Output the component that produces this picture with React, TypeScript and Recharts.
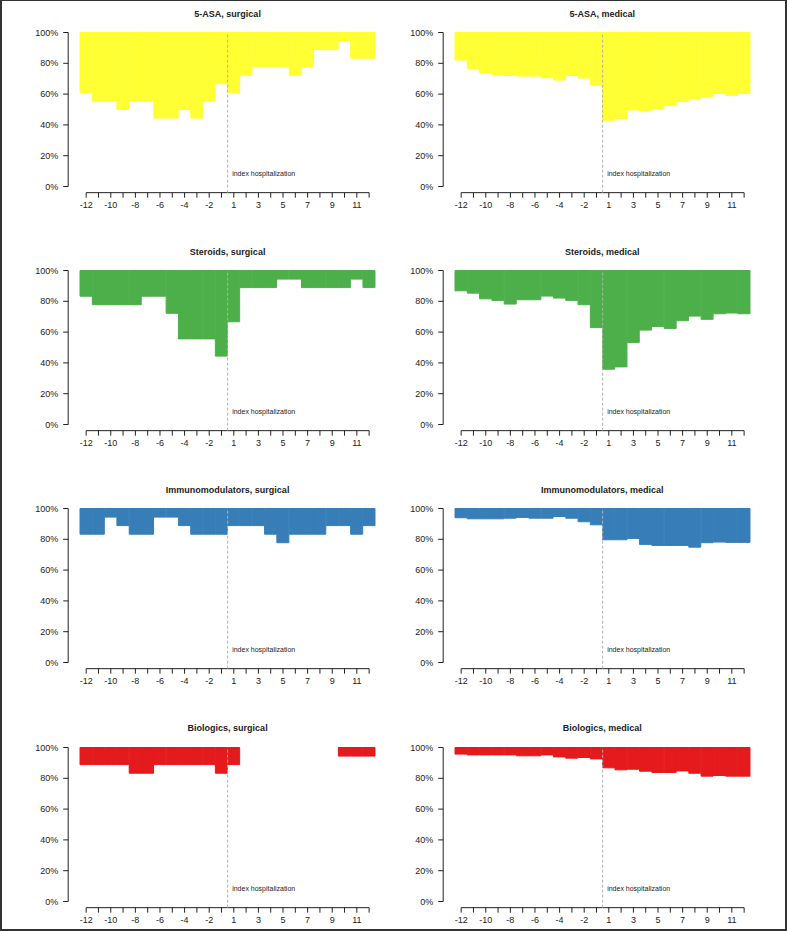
import React from 'react';
import { BarChart, Bar, XAxis, YAxis, ReferenceLine, ReferenceDot } from 'recharts';

// months relative to the index hospitalization (no month 0)
const MONTHS = [-12, -11, -10, -9, -8, -7, -6, -5, -4, -3, -2, -1, 1, 2, 3, 4, 5, 6, 7, 8, 9, 10, 11, 12];
const X_LABELS = ['-12', '', '-10', '', '-8', '', '-6', '', '-4', '', '-2', '', '1', '', '3', '', '5', '', '7', '', '9', '', '11', ''];
const Y_TICKS = [0, 20, 40, 60, 80, 100];

// share of patients (%) not on the drug, bars hang from 100% down to this value
const ASA_SURGICAL = [61.1, 55.6, 55.6, 50, 55.6, 55.6, 44.4, 44.4, 50, 44.4, 55.6, 66.7, 61.1, 72.2, 77.8, 77.8, 77.8, 72.2, 77.8, 88.9, 88.9, 94.4, 83.3, 83.3];
const ASA_MEDICAL = [82.1, 76.5, 73.7, 72.4, 72.1, 71.7, 71.7, 70.6, 69.1, 72.1, 70.4, 65.9, 43.0, 44.1, 49.7, 49.0, 50.5, 52.5, 55.3, 57.0, 58.5, 60.5, 59.2, 60.5];
const STEROIDS_SURGICAL = [83.3, 77.8, 77.8, 77.8, 77.8, 83.3, 83.3, 72.2, 55.6, 55.6, 55.6, 44.4, 66.7, 88.9, 88.9, 88.9, 94.4, 94.4, 88.9, 88.9, 88.9, 88.9, 94.4, 88.9];
const STEROIDS_MEDICAL = [86.8, 85.3, 81.6, 80.6, 78.2, 81.0, 81.0, 83.4, 82.1, 80.6, 77.8, 62.9, 35.9, 37.4, 53.3, 61.3, 63.7, 62.4, 67.4, 70.4, 68.3, 71.9, 72.4, 71.9];
const IMMUNO_SURGICAL = [83.3, 83.3, 94.4, 88.9, 83.3, 83.3, 94.4, 94.4, 88.9, 83.3, 83.3, 83.3, 88.9, 88.9, 88.9, 83.3, 77.8, 83.3, 83.3, 83.3, 88.9, 88.9, 83.3, 88.9];
const IMMUNO_MEDICAL = [94.0, 93.3, 93.3, 93.3, 93.7, 94.2, 93.7, 93.7, 94.8, 93.7, 91.4, 89.4, 79.7, 79.7, 80.6, 76.7, 76.0, 76.0, 76.0, 74.9, 77.8, 78.2, 78.0, 78.0];
const BIOLOGICS_SURGICAL = [88.9, 88.9, 88.9, 88.9, 83.3, 83.3, 88.9, 88.9, 88.9, 88.9, 88.9, 83.3, 88.9, 100, 100, 100, 100, 100, 100, 100, 100, 94.4, 94.4, 94.4];
const BIOLOGICS_MEDICAL = [95.7, 95.2, 95.2, 95.2, 95.2, 94.6, 94.6, 95.2, 93.9, 93.1, 93.5, 92.6, 86.8, 85.5, 85.9, 84.6, 83.8, 83.8, 84.8, 83.3, 81.4, 81.8, 81.4, 81.4];

const INDEX_X = 12.5; // between month -1 and month 1
const NOTE_Y = 8.7;

const PANELS = [
  { title: '5-ASA, surgical', values: ASA_SURGICAL, color: '#FFFF33' },
  { title: '5-ASA, medical', values: ASA_MEDICAL, color: '#FFFF33' },
  { title: 'Steroids, surgical', values: STEROIDS_SURGICAL, color: '#4DAF4A' },
  { title: 'Steroids, medical', values: STEROIDS_MEDICAL, color: '#4DAF4A' },
  { title: 'Immunomodulators, surgical', values: IMMUNO_SURGICAL, color: '#377EB8' },
  { title: 'Immunomodulators, medical', values: IMMUNO_MEDICAL, color: '#377EB8' },
  { title: 'Biologics, surgical', values: BIOLOGICS_SURGICAL, color: '#E41A1C' },
  { title: 'Biologics, medical', values: BIOLOGICS_MEDICAL, color: '#E41A1C' },
];

const FONT = '"Liberation Sans", Arial, Helvetica, sans-serif';
const INK = '#222';
const PX = 1.54; // px per percentage point
const W = 400;
const H = 238;
const M_LEFT = 28.2;
const Y_W = 40;
const PLOT_W = 318.9;
const M_TOP = 32.5 - 4 * PX;
const X_H = 30;
const COL_X = [0, 374.7];
const ROW_Y = [0, 238, 476.2, 714.5];

const Panel = ({ title, values, color }: { title: string; values: number[]; color: string }) => {
  const data = MONTHS.map((m, k) => ({ i: k + 1, month: m, v: values[k] }));
  return (
    <div style={{ position: 'relative', width: W, height: H }}>
      <div
        style={{
          position: 'absolute',
          left: M_LEFT + Y_W,
          width: PLOT_W,
          top: 9.5,
          textAlign: 'center',
          fontFamily: FONT,
          fontWeight: 'bold',
          fontSize: 9,
          lineHeight: '9px',
          color: INK,
        }}
      >
        {title}
      </div>
      <BarChart
        width={W}
        height={H}
        data={data}
        barCategoryGap={0}
        barGap={0}
        margin={{ top: M_TOP, right: W - M_LEFT - Y_W - PLOT_W, bottom: H - M_TOP - 108 * PX - X_H, left: M_LEFT }}
        style={{ position: 'absolute', left: 0, top: 0 }}
      >
        <XAxis
          dataKey="i"
          type="number"
          domain={[-0.46, 25.46]}
          allowDataOverflow
          ticks={MONTHS.map((_, k) => k + 1)}
          interval={0}
          height={X_H}
          axisLine={false}
          tickLine={{ stroke: INK }}
          tickSize={5}
          tickMargin={4}
          tickFormatter={(v: number) => X_LABELS[v - 1] ?? ''}
          tick={{ fontSize: 9, fill: INK, fontFamily: FONT }}
        />
        <YAxis
          type="number"
          domain={[-4, 104]}
          allowDataOverflow
          ticks={Y_TICKS}
          interval={0}
          width={Y_W}
          axisLine={false}
          tickLine={{ stroke: INK }}
          tickSize={5}
          tickMargin={5}
          tickFormatter={(v: number) => `${v}%`}
          tick={{ fontSize: 9, fill: INK, fontFamily: FONT }}
        />
        <Bar
          dataKey={(d: { v: number }) => [d.v, 100]}
          fill={color}
          stroke={color}
          strokeWidth={1}
          isAnimationActive={false}
        />
        <ReferenceLine
          segment={[{ x: -0.46, y: 0 }, { x: -0.46, y: 100 }]}
          stroke={INK}
          ifOverflow="visible"
        />
        <ReferenceLine
          segment={[{ x: 1, y: -4 }, { x: 24, y: -4 }]}
          stroke={INK}
          ifOverflow="visible"
        />
        <ReferenceLine
          segment={[{ x: INDEX_X, y: -4 }, { x: INDEX_X, y: 100 }]}
          stroke="#b0b0b0"
          strokeDasharray="3 2"
          ifOverflow="visible"
        />
        <ReferenceDot
          x={INDEX_X}
          y={NOTE_Y}
          r={0}
          fill="none"
          stroke="none"
          ifOverflow="visible"
          label={{ value: 'index hospitalization', position: 'right', offset: 4.5, fontSize: 7, fill: INK, fontFamily: FONT }}
        />
      </BarChart>
    </div>
  );
};

export default function App() {
  return (
    <div style={{ position: 'relative', width: 787, height: 931, background: '#fff', overflow: 'hidden' }}>
      <style>{'body{margin:0;}'}</style>
      {PANELS.map((p, k) => (
        <div key={p.title} style={{ position: 'absolute', left: COL_X[k % 2], top: ROW_Y[Math.floor(k / 2)] }}>
          <Panel title={p.title} values={p.values} color={p.color} />
        </div>
      ))}
      <div
        style={{
          position: 'absolute',
          inset: 0,
          borderTop: '1px solid #333',
          borderLeft: '2px solid #333',
          borderRight: '2px solid #333',
          borderBottom: '2px solid #333',
          pointerEvents: 'none',
        }}
      />
    </div>
  );
}
